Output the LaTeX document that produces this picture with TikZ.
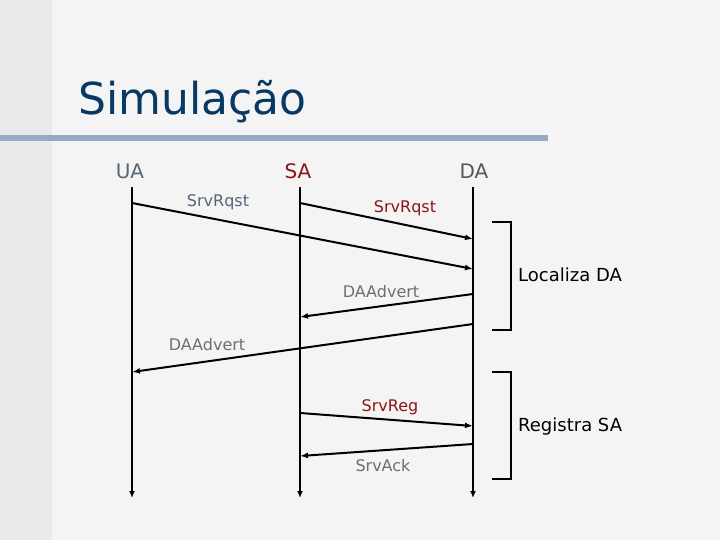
\documentclass[tikz,border=0pt]{standalone}
\usepackage{fontspec}
\setmainfont{DejaVu Sans}
\usetikzlibrary{arrows.meta,positioning}
\definecolor{bgcol}{RGB}{244,244,244}
\definecolor{stripcol}{RGB}{234,234,234}
\definecolor{rulecol}{RGB}{150,170,196}
\definecolor{titlecol}{RGB}{8,56,100}
\definecolor{uacol}{RGB}{84,100,122}
\definecolor{sacol}{RGB}{140,20,20}
\definecolor{dacol}{RGB}{85,85,85}
\definecolor{msgcol}{RGB}{110,110,110}
\tikzset{head/.style={anchor=base,font=\fontsize{20}{24}\selectfont},msg/.style={anchor=base,font=\fontsize{16}{19}\selectfont},life/.style={-{Latex[length=7pt,width=6pt]},line width=2pt},arrow/.style={-{Latex[length=8pt,width=6pt]},line width=2pt},bracket/.style={line width=2.4pt},phase/.style={anchor=base west,font=\fontsize{18}{22}\selectfont}}

\begin{document}
\begin{tikzpicture}[x=1pt,y=-1pt]
\useasboundingbox (0,0) rectangle (720,540);
\fill[bgcol] (0,0) rectangle (720,540);
\fill[stripcol] (0,0) rectangle (52,540);
\fill[rulecol] (0,135) rectangle (548,141);
\node[anchor=base west,text=titlecol,font=\fontsize{44}{50}\selectfont,inner sep=0pt] (title) at (78,115) {Simulação};
\node[head,text=uacol] (ua) at (130,179) {UA};
\node[head,text=sacol] (sa) at (298,179) {SA};
\node[head,text=dacol] (da) at (474,179) {DA};
% lifelines
\coordinate (uatop) at (132,187); \coordinate (uabot) at (132,498);
\coordinate (satop) at (300,187); \coordinate (sabot) at (300,498);
\coordinate (datop) at (473,187); \coordinate (dabot) at (473,498);
\draw[life] (uatop)--(uabot); \draw[life] (satop)--(sabot); \draw[life] (datop)--(dabot);
% messages
\coordinate (m1a) at (132,203); \coordinate (m1b) at (473,269);
\coordinate (m2a) at (300,203); \coordinate (m2b) at (473,239);
\coordinate (m3a) at (473,294); \coordinate (m3b) at (300,317);
\coordinate (m4a) at (473,324); \coordinate (m4b) at (132,372);
\coordinate (m5a) at (300,413); \coordinate (m5b) at (473,426);
\coordinate (m6a) at (473,444); \coordinate (m6b) at (300,456);
\draw[arrow] (m1a)--(m1b); \draw[arrow] (m2a)--(m2b); \draw[arrow] (m3a)--(m3b);
\draw[arrow] (m4a)--(m4b); \draw[arrow] (m5a)--(m5b); \draw[arrow] (m6a)--(m6b);
\node[msg,text=uacol] (rqst1) at (218,207) {SrvRqst};
\node[msg,text=sacol] (rqst2) at (405,213) {SrvRqst};
\node[msg,text=msgcol] (adv1) at (381,297) {DAAdvert};
\node[msg,text=msgcol] (adv2) at (207,350) {DAAdvert};
\node[msg,text=sacol] (reg) at (390,411) {SrvReg};
\node[msg,text=msgcol] (ack) at (383,471) {SrvAck};
% phases
\coordinate (b1a) at (492,222); \coordinate (b1b) at (492,330);
\coordinate (b2a) at (492,372); \coordinate (b2b) at (492,479);
\draw[bracket] (b1a)-|(511,330)--(b1b);
\draw[bracket] (b2a)-|(511,479)--(b2b);
\node[phase,inner sep=0pt] (loc) at (518,281) {Localiza DA};
\node[phase,inner sep=0pt] (regsa) at (518,431) {Registra SA};
\end{tikzpicture}
\end{document}
